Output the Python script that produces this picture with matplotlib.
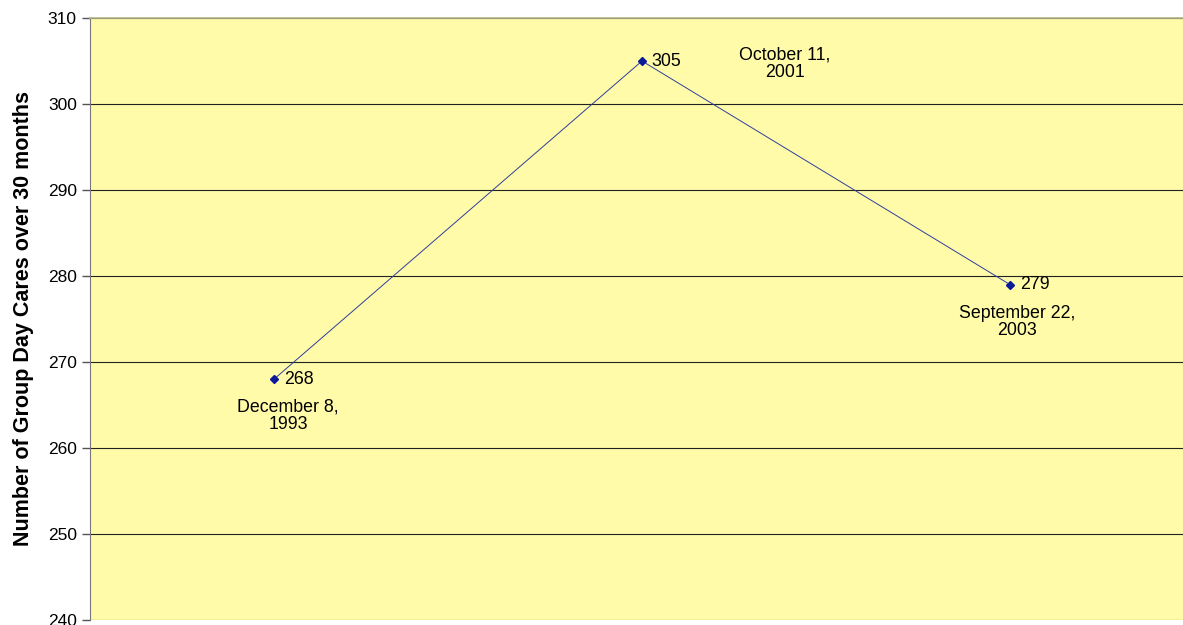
import numpy as np
import matplotlib.pyplot as plt

plt.rcParams['font.family'] = ['Liberation Sans', 'DejaVu Sans']

# data
positions = [0, 1, 2]
counts = [268, 305, 279]
dates = ['December 8,\n1993', 'October 11,\n2001', 'September 22,\n2003']
yticks = [240, 250, 260, 270, 280, 290, 300, 310]

W, H = 1183, 625
fig = plt.figure(figsize=(W/100, H/100), dpi=100)
ax = fig.add_axes([90/W, 5/H, (1183-90)/W, (620-18)/H])
ax.set_facecolor('#FFFBA8')

ax.plot(positions, counts, color='#2E3F9E', lw=0.7, marker='D', ms=4.5,
        mfc='#0A1A99', mec='#0A1A99', zorder=3)

for x, y in zip(positions, counts):
    ax.annotate(str(y), (x, y), xytext=(7, 0), textcoords='offset points',
                va='center', ha='left', fontsize=12.8)

# date labels, placed as in the original
date_offsets = [(10, -14), (103, 10.5), (5, -14.5)]
for x, y, d, off in zip(positions, counts, dates, date_offsets):
    ax.annotate(d, (x, y), xytext=off, textcoords='offset points',
                ha='center', va='top', fontsize=12.8, linespacing=1.05)

ax.set_xlim(-0.5, 2 + 173/368)
ax.set_ylim(240, 310)
ax.set_yticks(yticks)
ax.set_xticks([])
ax.yaxis.grid(True, color='#222222', lw=0.8)
ax.set_axisbelow(True)
ax.tick_params(axis='y', labelsize=12.5, length=6, color='#555555', width=1)

for s in ['right', 'bottom']:
    ax.spines[s].set_visible(False)
ax.spines['left'].set_color('#777777')
ax.spines['top'].set_color('#B8B48A')
ax.spines['top'].set_linewidth(1.2)

ax.set_ylabel('Number of Group Day Cares over 30 months', fontsize=15.5,
              fontweight='bold', labelpad=10)

fig.savefig('out.png', dpi=100)
